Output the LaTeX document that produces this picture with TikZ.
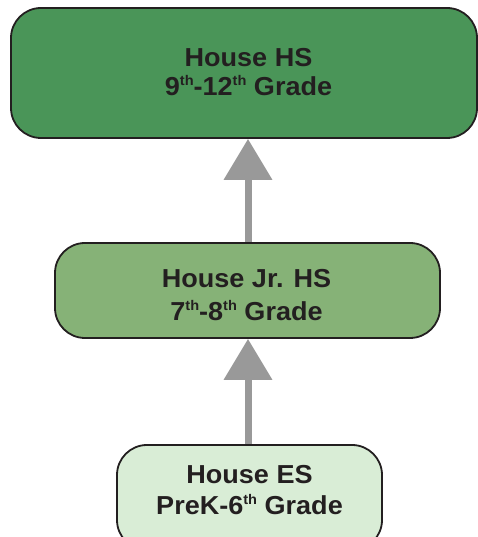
\documentclass[tikz,border=0pt]{standalone}
\usepackage{fontspec}
\setmainfont{Liberation Sans}[FakeStretch=1.04]
\usetikzlibrary{arrows.meta}
\definecolor{hsgreen}{HTML}{4A9558}
\definecolor{jrgreen}{HTML}{86B277}
\definecolor{esgreen}{HTML}{D9EDD6}
\definecolor{bordercol}{HTML}{231F20}
\definecolor{arrowgray}{HTML}{999999}
\newcommand{\sth}{\raisebox{0.38em}{\fontsize{14}{14}\selectfont th}}
\tikzset{
  boxtext/.style={font=\fontsize{26}{#1}\selectfont\bfseries, text=bordercol, align=center, inner sep=0pt},
  box/.style={draw=bordercol, line width=1.8pt, rounded corners=30pt, inner sep=0pt},
  uparrow/.style={draw=arrowgray, line width=7pt, -{Triangle[width=47pt,length=41pt]}},
}
\begin{document}
\begin{tikzpicture}[x=1pt,y=1pt]
\useasboundingbox (0,0) rectangle (478,537);
\node[box, fill=hsgreen, minimum width=466pt, minimum height=130pt] (hs) at (244,464) {};
\node[box, fill=jrgreen, minimum width=385pt, minimum height=95pt] (jr) at (247.5,246.5) {};
\node[box, fill=esgreen, minimum width=265pt, minimum height=105pt] (es) at (249.5,39.5) {};
\node[boxtext=29] (hstext) at (248.5,464.8) {House HS\\9\sth-12\sth{} Grade};
\node[boxtext=33] (jrtext) at (246.5,241.7) {House Jr. HS\\7\sth-8\sth{} Grade};
\node[boxtext=31] (estext) at (249.5,47.3) {House ES\\PreK-6\sth{} Grade};
\draw[uparrow] (jr.north -| 248,0) -- (hs.south -| 248,0);
\draw[uparrow] (es.north -| 248,0) -- (jr.south -| 248,0);
\end{tikzpicture}
\end{document}
